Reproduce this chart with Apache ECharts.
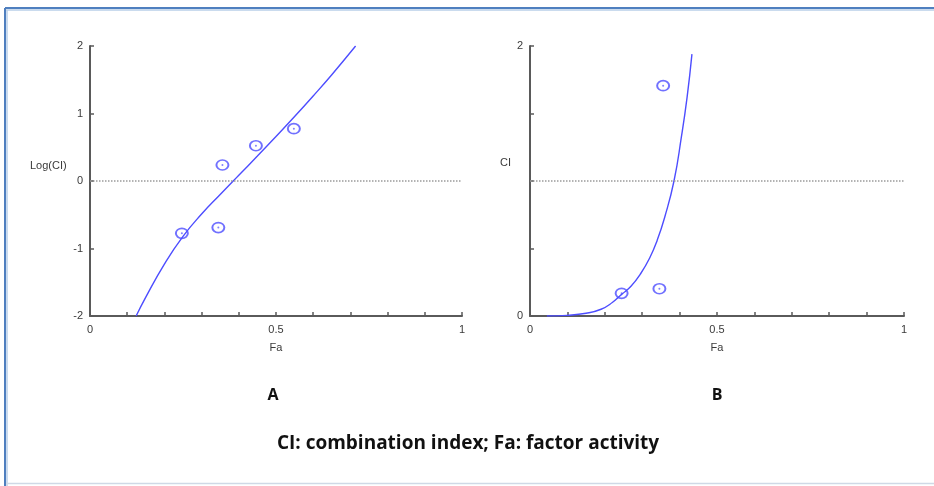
<!DOCTYPE html>
<html>
<head>
<meta charset="utf-8">
<script src="https://cdn.jsdelivr.net/npm/echarts@6/dist/echarts.min.js"></script>
<style>
html,body{margin:0;padding:0;background:#fff;}
#chart{width:934px;height:486px;}
</style>
</head>
<body>
<div id="chart"></div>
<script>
// ---- Data ----
const faPointsA = [0.247, 0.345, 0.356, 0.446, 0.548];
const logCIPointsA = [-0.775, -0.69, 0.237, 0.523, 0.775];
const faCurveA = [0.124, 0.15, 0.20, 0.25, 0.30, 0.35, 0.385, 0.40, 0.45, 0.50, 0.55, 0.60, 0.65, 0.714];
const logCICurveA = [-2.0, -1.72, -1.23, -0.82, -0.49, -0.20, 0.0, 0.085, 0.37, 0.66, 0.955, 1.26, 1.575, 2.0];

const faPointsB = [0.245, 0.346, 0.356];
const ciPointsB = [0.168, 0.202, 1.706];
const faCurveB = [0.045, 0.10, 0.15, 0.19, 0.22, 0.245, 0.27, 0.295, 0.32, 0.34, 0.36, 0.385, 0.405, 0.42, 0.433];
const ciCurveB = [0.0, 0.005, 0.02, 0.05, 0.10, 0.16, 0.22, 0.31, 0.43, 0.56, 0.73, 1.0, 1.33, 1.62, 1.94];

const xTickLabels = ['0', '0.5', '1'];
const yTickLabelsA = ['-2', '-1', '0', '1', '2'];
const yTickLabelsB = ['0', '2'];
const refLineA = 0;
const refLineB = 1;

const xLabel = 'Fa';
const yLabelA = 'Log(CI)';
const yLabelB = 'CI';
const panelLabels = ['A', 'B'];
const caption = 'CI: combination index; Fa: factor activity';

// ---- Styles ----
const BLUE = '#4d4dff';
const AXIS = '#5a5a5a';
const LABEL = '#3a3a3a';
const FONT = 'Liberation Sans, Arial, sans-serif';
const BOLD = 'bold 19px "Open Sans", Lato, sans-serif';

function zip(a, b) { return a.map((v, i) => [v, b[i]]); }
function fmtIn(list) {
  return function (v) {
    const s = String(Math.round(v * 1000) / 1000);
    return list.indexOf(s) >= 0 ? s : '';
  };
}

function xAxis(gridIndex) {
  return {
    gridIndex, type: 'value', min: 0, max: 1, interval: 0.1,
    name: xLabel, nameLocation: 'middle', nameGap: 26,
    nameTextStyle: { color: LABEL, fontFamily: FONT, fontSize: 11 },
    axisLine: { show: true, onZero: false, lineStyle: { color: AXIS, width: 2 } },
    axisTick: { show: true, inside: true, length: 4, lineStyle: { color: AXIS, width: 1.5 } },
    axisLabel: { formatter: fmtIn(xTickLabels), color: LABEL, fontFamily: FONT, fontSize: 11, margin: 8, showMinLabel: true, showMaxLabel: true },
    splitLine: { show: false }
  };
}
function yAxis(gridIndex, min, max, interval, labels) {
  return {
    gridIndex, type: 'value', min, max, interval,
    axisLine: { show: true, onZero: false, lineStyle: { color: AXIS, width: 2 } },
    axisTick: { show: true, inside: true, length: 4, lineStyle: { color: AXIS, width: 1.5 } },
    axisLabel: { formatter: fmtIn(labels), color: LABEL, fontFamily: FONT, fontSize: 11, margin: 7 },
    splitLine: { show: false }
  };
}

function ringSeries(idx, data) {
  return {
    type: 'scatter', xAxisIndex: idx, yAxisIndex: idx, data,
    symbol: 'circle', symbolSize: [12, 10],
    itemStyle: { color: 'rgba(0,0,0,0)', borderColor: BLUE, borderWidth: 1.8 },
    silent: true, z: 5
  };
}
function dotSeries(idx, data) {
  return {
    type: 'scatter', xAxisIndex: idx, yAxisIndex: idx, data,
    symbol: 'circle', symbolSize: 2,
    itemStyle: { color: BLUE, opacity: 0.7 },
    silent: true, z: 6
  };
}
function curveSeries(idx, data, ref) {
  return {
    type: 'line', xAxisIndex: idx, yAxisIndex: idx, data,
    showSymbol: false, smooth: true, clip: true,
    lineStyle: { color: BLUE, width: 1.4 },
    silent: true, z: 4,
    markLine: {
      silent: true, symbol: 'none', label: { show: false },
      lineStyle: { color: '#9a9a9a', type: 'dotted', width: 1.5 },
      data: [{ yAxis: ref }]
    }
  };
}

const chart = echarts.init(document.getElementById('chart'), null, { renderer: 'canvas' });
chart.setOption({
  backgroundColor: '#ffffff',
  animation: false,
  grid: [
    { left: 90, top: 46, width: 372, height: 270 },
    { left: 530, top: 46, width: 374, height: 270 }
  ],
  xAxis: [xAxis(0), xAxis(1)],
  yAxis: [yAxis(0, -2, 2, 1, yTickLabelsA), yAxis(1, 0, 2, 0.5, yTickLabelsB)],
  series: [
    curveSeries(0, zip(faCurveA, logCICurveA), refLineA),
    ringSeries(0, zip(faPointsA, logCIPointsA)),
    dotSeries(0, zip(faPointsA, logCIPointsA)),
    curveSeries(1, zip(faCurveB, ciCurveB), refLineB),
    ringSeries(1, zip(faPointsB, ciPointsB)),
    dotSeries(1, zip(faPointsB, ciPointsB))
  ],
  graphic: [
    // frame
    { type: 'line', shape: { x1: 5, y1: 8, x2: 934, y2: 8 }, style: { stroke: '#4f7fbf', lineWidth: 2 } },
    { type: 'line', shape: { x1: 6, y1: 10, x2: 934, y2: 10 }, style: { stroke: '#b9cfe9', lineWidth: 1.5 } },
    { type: 'line', shape: { x1: 5, y1: 8, x2: 5, y2: 486 }, style: { stroke: '#4f7fbf', lineWidth: 2 } },
    { type: 'line', shape: { x1: 7, y1: 10, x2: 7, y2: 486 }, style: { stroke: '#b9cfe9', lineWidth: 1.5 } },
    { type: 'line', shape: { x1: 6, y1: 483.5, x2: 934, y2: 483.5 }, style: { stroke: '#cfd9e6', lineWidth: 1.5 } },
    // y-axis names
    { type: 'text', left: 30, top: 160, style: { text: yLabelA, fill: LABEL, font: '11px ' + FONT } },
    { type: 'text', left: 500, top: 157, style: { text: yLabelB, fill: LABEL, font: '11px ' + FONT } },
    // panel labels
    { type: 'text', x: 273, y: 395, style: { text: panelLabels[0], fill: '#111', font: 'bold 16px "Open Sans", Lato, sans-serif', textAlign: 'center', textVerticalAlign: 'middle' } },
    { type: 'text', x: 717, y: 395, style: { text: panelLabels[1], fill: '#111', font: 'bold 16px "Open Sans", Lato, sans-serif', textAlign: 'center', textVerticalAlign: 'middle' } },
    { type: 'text', x: 468, y: 444, style: { text: caption, fill: '#111', font: BOLD, textAlign: 'center', textVerticalAlign: 'middle' } }
  ]
});
</script>
</body>
</html>
